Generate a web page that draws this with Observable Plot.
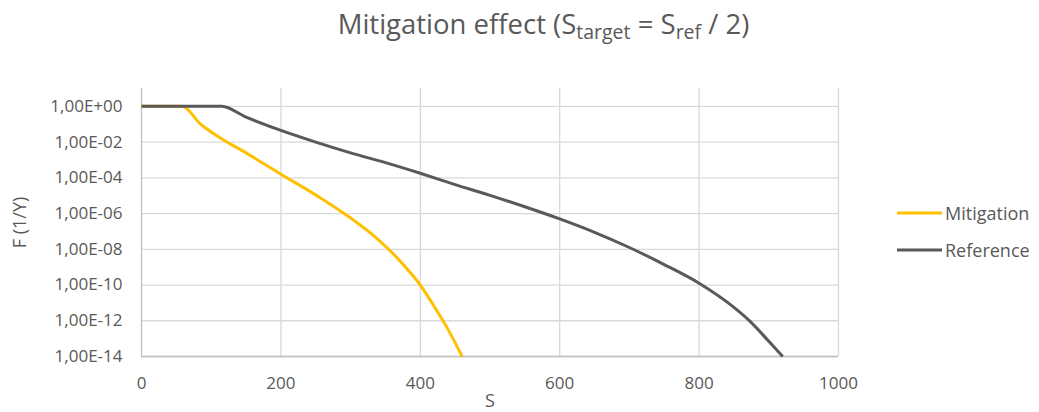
<!DOCTYPE html>
<html>
<head>
<meta charset="utf-8">
<script src="https://cdn.jsdelivr.net/npm/d3@7"></script>
<script src="https://cdn.jsdelivr.net/npm/@observablehq/plot@0.6"></script>
<style>
  html, body { margin: 0; padding: 0; background: #fff; }
  #wrap { position: relative; width: 1039px; height: 412px; font-family: "Open Sans", sans-serif; color: #595959; }
  #title { height: 60px; box-sizing: border-box; padding-top: 8px; text-align: center; padding-left: 48px; font-size: 27.5px; line-height: 32px; color: #595959; white-space: nowrap; }
  #title sub { font-size: 19.5px; vertical-align: -5px; line-height: 0; }
  #legend { position: absolute; left: 897px; top: 200px; font-size: 18px; color: #595959; }
  .item { position: absolute; left: 0; height: 26px; display: flex; align-items: center; white-space: nowrap; }
  .item svg { margin-right: 3px; }
  #chart svg { display: block; }
</style>
</head>
<body>
<div id="wrap">
  <div id="title">Mitigation effect (S<sub>target</sub> = S<sub>ref</sub> / 2)</div>
  <div id="chart"></div>
  <div id="legend"></div>
</div>
<script>
// Series: S values and F (1/Y) values
const seriesNames = ["Mitigation", "Reference"];
const seriesColors = ["#FFC000", "#595959"];

const sMitigation = [0, 58, 85, 113, 150, 200, 250, 300, 338, 372, 400, 420, 440, 460];
const fMitigation = [1, 1, 1.0e-1, 1.7e-2, 2.5e-3, 1.6e-4, 1.1e-5, 5.6e-7, 4.0e-8, 2.0e-9, 1.0e-10, 6.3e-12, 3.2e-13, 1.0e-14];

const sReference = [0, 115, 150, 200, 250, 300, 350, 400, 450, 500, 550, 600, 650, 700, 750, 800, 850, 875, 900, 920];
const fReference = [1, 1, 2.5e-1, 4.5e-2, 1.0e-2, 2.5e-3, 7.1e-4, 1.8e-4, 4.2e-5, 1.05e-5, 2.4e-6, 5.0e-7, 8.9e-8, 1.26e-8, 1.4e-9, 1.26e-10, 5.6e-12, 7.9e-13, 7.1e-14, 1.0e-14];

const xTicks = [0, 200, 400, 600, 800, 1000];
const yTicks = [1, 1e-2, 1e-4, 1e-6, 1e-8, 1e-10, 1e-12, 1e-14];
const yDomain = [1e-14, 10];
const xDomain = [0, 1000];
const xLabel = "S";
const yLabel = "F (1/Y)";

const rows = [
  ...sMitigation.map((s, i) => ({series: seriesNames[0], S: s, F: fMitigation[i]})),
  ...sReference.map((s, i) => ({series: seriesNames[1], S: s, F: fReference[i]}))
];

const fmtY = d => {
  const e = Math.round(Math.log10(d));
  return "1,00E" + (e >= 0 ? "+" : "-") + String(Math.abs(e)).padStart(2, "0");
};

const chart = Plot.plot({
  width: 1039,
  height: 352,
  marginLeft: 141,
  marginRight: 201,
  marginTop: 28,
  marginBottom: 56,
  style: {fontFamily: "Open Sans, sans-serif", color: "#595959", background: "#fff"},
  x: {domain: xDomain},
  y: {type: "log", domain: yDomain},
  color: {domain: seriesNames, range: seriesColors},
  marks: [
    Plot.ruleY(yTicks, {stroke: "#d9d9d9", strokeWidth: 1.3}),
    Plot.ruleX(xTicks.slice(1), {stroke: "#d9d9d9", strokeWidth: 1.3}),
    Plot.ruleX([xDomain[0]], {stroke: "#bfbfbf", strokeWidth: 1.3}),
    Plot.ruleY([yDomain[0]], {stroke: "#bfbfbf", strokeWidth: 1.3}),
    Plot.axisX({ticks: xTicks, tickFormat: d => String(d), tickSize: 0, tickPadding: 20, fontSize: 17, fill: "#595959", label: null}),
    Plot.axisY({ticks: yTicks, tickFormat: fmtY, tickSize: 0, tickPadding: 19, fontSize: 17, fill: "#595959", label: null}),
    Plot.text([xLabel], {text: d => d, frameAnchor: "bottom", lineAnchor: "middle", dy: 45, fontSize: 18, fill: "#595959"}),
    Plot.text([yLabel], {text: d => d, frameAnchor: "left", textAnchor: "middle", lineAnchor: "middle", dx: -121, rotate: -90, fontSize: 18, fill: "#595959"}),
    Plot.line(rows, {x: "S", y: "F", z: "series", stroke: "series", strokeWidth: 3, strokeLinejoin: "round", strokeLinecap: "butt", curve: "monotone-x"})
  ]
});
document.getElementById("chart").appendChild(chart);

const legend = document.getElementById("legend");
seriesNames.forEach((name, i) => {
  const item = document.createElement("div");
  item.className = "item";
  item.style.top = (i * 37) + "px";
  item.innerHTML = `<svg width="45" height="6"><line x1="0" x2="45" y1="3" y2="3" stroke="${seriesColors[i]}" stroke-width="3"/></svg><span>${name}</span>`;
  legend.appendChild(item);
});
</script>
</body>
</html>
